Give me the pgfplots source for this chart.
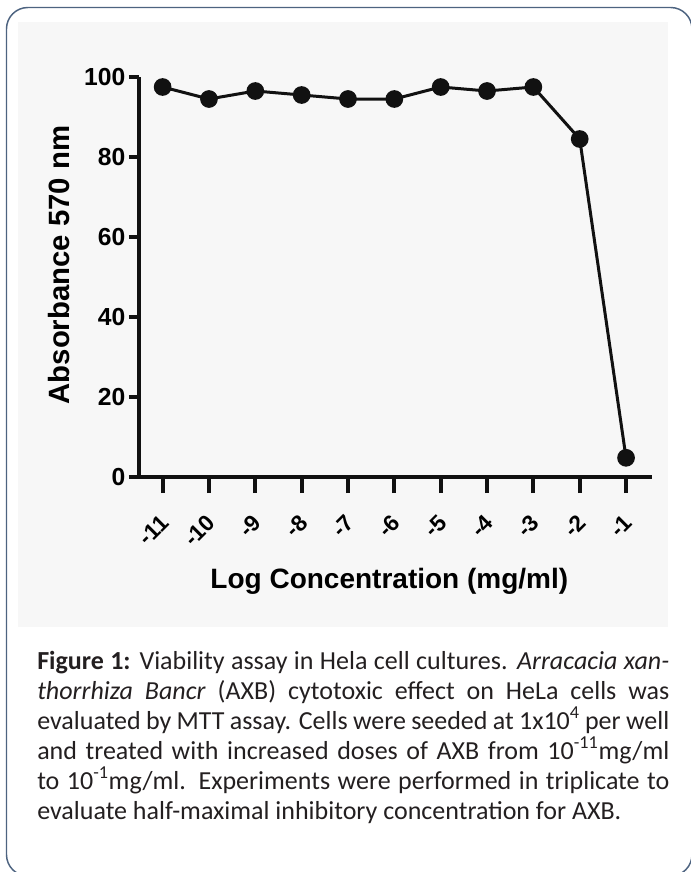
\documentclass[border=0pt]{standalone}
\usepackage{fontspec}
\setmainfont{Liberation Sans}
\newfontfamily\capfont{Carlito}
\usepackage{pgfplots}
\pgfplotsset{compat=1.18}
\definecolor{panel}{HTML}{F7F7F7}
\definecolor{framecol}{HTML}{4D6380}
\definecolor{ink}{HTML}{111111}
\definecolor{captext}{HTML}{231F20}

\begin{document}
\begin{tikzpicture}
% page, frame and grey panel, in pixel units of the reference
\begin{scope}[x=0.75pt,y=-0.75pt]
  \path[use as bounding box] (0,0) rectangle (690,872);
  \draw[framecol, line width=1.1pt, rounded corners=16pt] (6.5,7.5) rectangle (692,876);
  \fill[panel] (18,22) rectangle (668,627);
\end{scope}

\begin{axis}[
  at={(104.25pt,-357.75pt)}, anchor=south west,
  width=384.75pt, height=300pt, scale only axis,
  xmin=-11.51, xmax=-0.44, ymin=0, ymax=100,
  axis x line*=bottom, axis y line*=left,
  axis line style={-, ink, line width=3.5pt},
  xtick={-11,-10,...,-1},
  xticklabels={-11,-10,-9,-8,-7,-6,-5,-4,-3,-2,-1},
  ytick={0,20,...,100},
  yticklabels={0,20,40,60,80,100},
  tick align=outside,
  major tick length=9pt,
  tick style={ink, line width=3pt},
  xtick style={/pgfplots/major tick length=12pt},
  ytick style={/pgfplots/major tick length=7.5pt},
  yticklabel style={font=\bfseries\fontsize{18.5}{20}\selectfont, inner sep=1pt},
  xticklabel style={font=\bfseries\fontsize{17}{18}\selectfont, inner sep=0.5pt,
    xshift=2pt, rotate=45, anchor=east},
  xticklabel shift=22pt,
  xlabel={Log Concentration (mg/ml)},
  xlabel style={font=\bfseries\fontsize{21}{24}\selectfont,
    at={(axis description cs:0.488,-0.2775)}, anchor=base},
  ylabel={Absorbance 570 nm},
  ylabel style={font=\bfseries\fontsize{22}{24}\selectfont,
    at={(axis description cs:-0.1345,0.53)}, anchor=base},
  clip=false,
]
\addplot[ink, line width=2.25pt, mark=*, mark size=5.5pt, mark options={solid, fill=ink}]
  coordinates {(-11,97.5) (-10,94.5) (-9,96.5) (-8,95.5) (-7,94.5) (-6,94.5)
               (-5,97.5) (-4,96.5) (-3,97.5) (-2,84.5) (-1,4.8)};
\end{axis}

% caption
\begin{scope}[x=0.75pt,y=-0.75pt, every node/.style={anchor=base west, inner sep=0pt,
    text=captext, font=\capfont\fontsize{19.5}{22}\selectfont}]
  \node at (37,669) {\makebox[474pt][s]{\textbf{Figure 1:} Viability assay in Hela cell cultures. \textit{Arracacia xan-}}};
  \node at (37,699) {\makebox[474pt][s]{\textit{thorrhiza Bancr} (AXB) cytotoxic effect on HeLa cells was}};
  \node at (37,729) {\makebox[474pt][s]{evaluated by MTT assay. Cells were seeded at 1x10\textsuperscript{4} per well}};
  \node at (37,759) {\makebox[474pt][s]{and treated with increased doses of AXB from 10\textsuperscript{-11}mg/ml}};
  \node at (37,789) {\makebox[474pt][s]{to 10\textsuperscript{-1}mg/ml. Experiments were performed in triplicate to}};
  \node at (37,819) {evaluate half-maximal inhibitory concentration for AXB.};
\end{scope}
\end{tikzpicture}
\end{document}
